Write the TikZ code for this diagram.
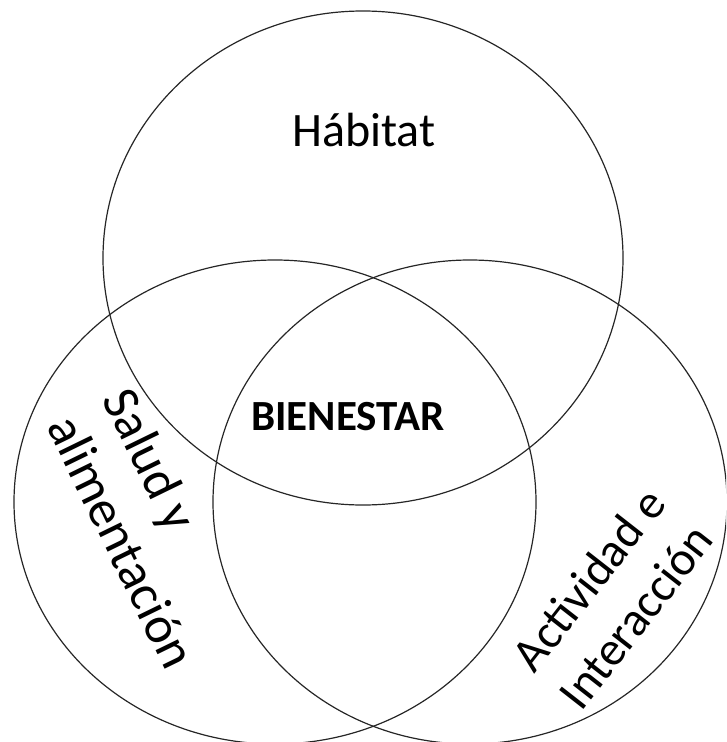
\documentclass[tikz,border=0pt]{standalone}
\usepackage{fontspec}
\setmainfont{Carlito}
\begin{document}
\begin{tikzpicture}[x=1pt,y=-1pt,
  ring/.style={draw=black!85,line width=1.2pt},
  lbl/.style={font=\fontsize{48}{60}\selectfont,inner sep=0pt}]
\useasboundingbox (0,0) rectangle (726,742);
\clip (0,0) rectangle (726,742);
\draw[ring] (363,258) ellipse [x radius=260, y radius=247];
\draw[ring] (275,502) ellipse [x radius=261, y radius=242];
\draw[ring] (470,502) ellipse [x radius=257, y radius=242];
\node[lbl] (habitat) at (364,130) {Hábitat};
\node[lbl,font=\fontsize{43}{50}\selectfont\bfseries] (bien) at (348,417) {BIENESTAR};
\node[lbl,font=\fontsize{52}{62}\selectfont,align=left,rotate=-64] (salud) at (150,528) {Salud y\\alimentación};
\node[lbl,align=center,rotate=52] (activ) at (612,598) {Actividad e\\Interacción};
\end{tikzpicture}
\end{document}
